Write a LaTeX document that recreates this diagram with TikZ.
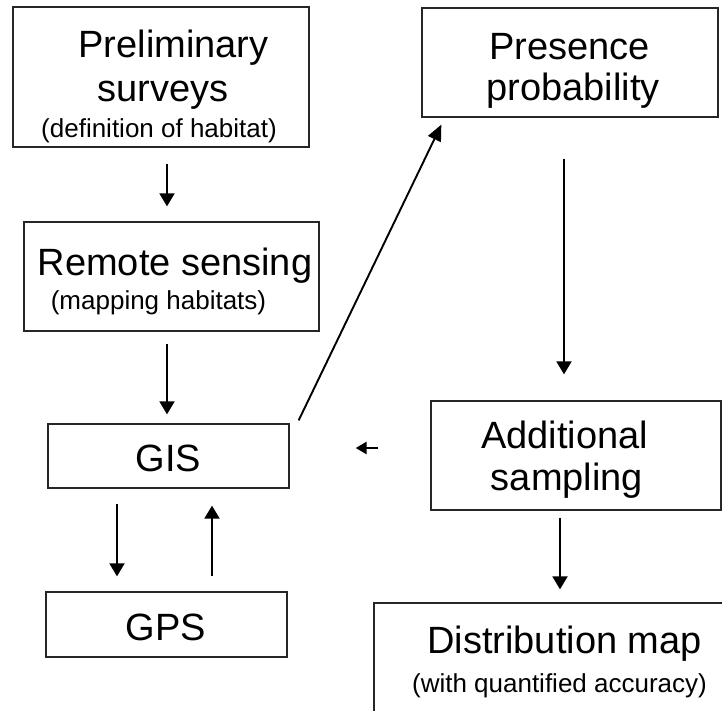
\documentclass[tikz,border=0pt]{standalone}
\usepackage{fontspec}
\setmainfont{Liberation Sans}
\usetikzlibrary{arrows.meta}
\begin{document}
\begin{tikzpicture}[x=1pt,y=-1pt,
  box/.style={draw=black!85, line width=1.3pt, inner sep=0pt},
  big/.style={font=\fontsize{38}{40}\selectfont, anchor=base, inner sep=0pt},
  small/.style={font=\fontsize{26}{28}\selectfont, anchor=base, inner sep=0pt},
  arr/.style={line width=1.9pt, -{Triangle[length=13pt,width=15pt]}},
  diagarr/.style={line width=1.9pt, -{Triangle[length=16pt,width=14pt]}},
  smallarr/.style={line width=2.6pt, -{Triangle[length=11pt,width=12pt]}}]
\useasboundingbox (0,0) rectangle (722,710);
\clip (0,0) rectangle (722,710);

% boxes
\node[box, minimum width=296pt, minimum height=140pt] (prelim)   at (161,77)    {};
\node[box, minimum width=296pt, minimum height=109pt] (presence) at (570,62.5)  {};
\node[box, minimum width=295pt, minimum height=109pt] (remote)   at (171.5,276.5) {};
\node[box, minimum width=241pt, minimum height=64pt]  (gis)      at (168.5,456) {};
\node[box, minimum width=290pt, minimum height=109pt] (addsamp)  at (576,455.5) {};
\node[box, minimum width=241pt, minimum height=65pt]  (gps)      at (166.5,624.5) {};
\node[box, minimum width=420pt, minimum height=160pt] (distmap)  at (584,683)   {};

% labels
\node[big]   (t1a) at (173.5,57)  {Preliminary};
\node[big]   (t1b) at (163,101)   {surveys};
\node[small] (t1c) at (159,137)   {(definition of habitat)};
\node[big]   (t2a) at (569.5,59)  {Presence};
\node[big]   (t2b) at (573,100)   {probability};
\node[big]   (t3a) at (175,275)   {Remote sensing};
\node[small] (t3b) at (158.5,309) {(mapping habitats)};
\node[big]   (t4)  at (168.5,471) {GIS};
\node[big]   (t5a) at (564.5,448) {Additional};
\node[big]   (t5b) at (567,490)   {sampling};
\node[big]   (t6)  at (166,640)   {GPS};
\node[big]   (t7a) at (564.5,653) {Distribution map};
\node[small] (t7b) at (559.5,692.5) {(with quantified accuracy)};

% connectors
\draw[arr, shorten <=16pt, shorten >=15pt] (prelim.south -| 167,0) -- (remote.north -| 167,0);
\draw[arr, shorten <=12pt, shorten >=9pt]  (remote.south -| 167,0) -- (gis.north -| 167,0);
\draw[arr, shorten <=15pt, shorten >=15pt] (gis.south -| 117,0) -- (gps.north -| 117,0);
\draw[arr, shorten <=15pt, shorten >=17pt] (gps.north -| 212,0) -- (gis.south -| 212,0);
\draw[diagarr] ([xshift=9pt,yshift=3pt]gis.north east) -- ([xshift=20pt,yshift=-7pt]presence.south west);
\draw[arr, shorten <=41pt, shorten >=26pt] (presence.south -| 564,0) -- (addsamp.north -| 564,0);
\draw[smallarr, shorten <=52pt, shorten >=66pt] (addsamp.west |- 0,448) -- (gis.east |- 0,448);
\draw[arr, shorten <=7pt, shorten >=13pt] (addsamp.south -| 560,0) -- (distmap.north -| 560,0);
\end{tikzpicture}
\end{document}
